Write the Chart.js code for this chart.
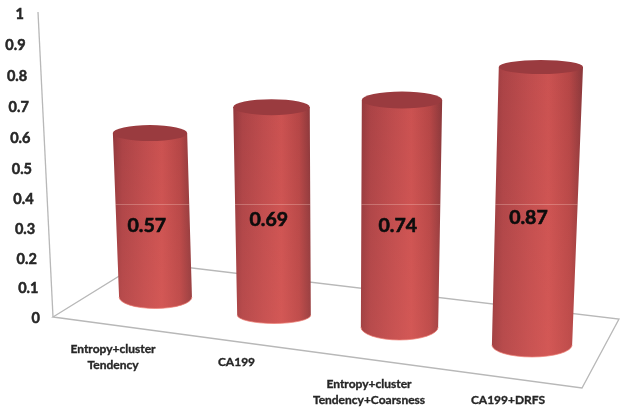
<!DOCTYPE html>
<html>
<head>
<meta charset="utf-8">
<style>
  html, body { margin: 0; padding: 0; background: #fff; }
  canvas { display: block; filter: blur(0.5px); }
</style>
<script src="https://cdn.jsdelivr.net/npm/chart.js@4/dist/chart.umd.min.js"></script>
</head>
<body>
<canvas id="chart" width="630" height="412"></canvas>
<script>
const categories = [
  ['Entropy+cluster', 'Tendency'],
  ['CA199'],
  ['Entropy+cluster', 'Tendency+Coarsness'],
  ['CA199+DRFS']
];
const values = [0.57, 0.69, 0.74, 0.87];
const tickValues = [0, 0.1, 0.2, 0.3, 0.4, 0.5, 0.6, 0.7, 0.8, 0.9, 1];
const tickLabels = ['0', '0.1', '0.2', '0.3', '0.4', '0.5', '0.6', '0.7', '0.8', '0.9', '1'];

// fake 3d: where each bar stands on the floor and how much it grows with depth
const feetShiftX = [31.75, 8.75, -7.25, -16.25];
const feetY = [297, 315, 327, 345];
const depthScale = [0.946, 0.991, 1.009, 1.051];
const lean = [-0.0335, -0.012, 0.011, 0.032];
const widthScale = [0.99, 1.0, 1.05, 1.09];
const topTaper = [1.02, 1.04, 1.04, 1.05];
const footRy = [11.5, 8.5, 13, 12];
const capRy = [8, 8, 8.5, 7];
const valueLabelShift = [[-6, 11], [-4, 9], [-3, 12], [-8, 12]];

// x axis labels sit on the slanted floor, first line centre of each
const xLabelAnchors = [[113, 349], [236.5, 362], [369, 384], [508, 400]];

const floor = [[53, 317], [142, 262], [619, 319], [582, 388]];
const wall = [[38, 12], [53, 317]];
const seamY = 204.5;

class SlantLinearScale extends Chart.LinearScale {
  _computeLabelItems(area) {
    const items = super._computeLabelItems(area);
    items.forEach((item, i) => {
      const v = this.ticks[i].value;
      const y = this.getPixelForValue(v) + 12 * v * (1 - v);
      item.options.translation = [40 - 16 * v, y];
      item.options.textAlign = 'right';
      item.options.textBaseline = 'middle';
      item.textOffset = 0;
    });
    return items;
  }
}
SlantLinearScale.id = 'slantLinear';
SlantLinearScale.defaults = Chart.LinearScale.defaults;

class FloorCategoryScale extends Chart.CategoryScale {
  _computeLabelItems(area) {
    const items = super._computeLabelItems(area);
    items.forEach((item, i) => {
      item.options.translation = xLabelAnchors[i];
      item.options.textAlign = 'center';
      item.options.textBaseline = 'middle';
      item.textOffset = 0;
    });
    return items;
  }
}
FloorCategoryScale.id = 'floorCategory';
FloorCategoryScale.defaults = Chart.CategoryScale.defaults;

Chart.register(SlantLinearScale, FloorCategoryScale);

function line(ctx, pts, close) {
  ctx.beginPath();
  pts.forEach((p, i) => i ? ctx.lineTo(p[0], p[1]) : ctx.moveTo(p[0], p[1]));
  if (close) ctx.closePath();
  ctx.stroke();
}

function drawCylinder(ctx, bar, i) {
  const h = (bar.base - bar.y) * depthScale[i];
  const bx = bar.x + feetShiftX[i];
  const by = feetY[i];
  const tx = bx + lean[i] * h;
  const ty = by - h;
  const rb = bar.width / 2 * widthScale[i];
  const rt = rb * topTaper[i];

  const side = new Path2D();
  side.moveTo(tx - rt, ty);
  side.lineTo(bx - rb, by);
  side.ellipse(bx, by, rb, footRy[i], 0, Math.PI, 0, true);
  side.lineTo(tx + rt, ty);
  side.closePath();

  const left = Math.min(tx - rt, bx - rb);
  const right = Math.max(tx + rt, bx + rb);
  const g = ctx.createLinearGradient(left, 0, right, 0);
  g.addColorStop(0, '#93393d');
  g.addColorStop(0.12, '#ab4346');
  g.addColorStop(0.4, '#be4c4d');
  g.addColorStop(0.62, '#cb5251');
  g.addColorStop(0.85, '#b54646');
  g.addColorStop(1, '#8a383b');
  ctx.fillStyle = g;
  ctx.fill(side);

  // the lower part of each cylinder is a bit brighter
  const v = ctx.createLinearGradient(0, ty, 0, by + footRy[i]);
  v.addColorStop(0, 'rgba(255,120,110,0)');
  v.addColorStop(1, 'rgba(255,120,110,0.16)');
  ctx.fillStyle = v;
  ctx.fill(side);

  ctx.save();
  ctx.clip(side);
  ctx.strokeStyle = 'rgba(255,225,215,0.28)';
  ctx.lineWidth = 1;
  line(ctx, [[left, seamY], [right, seamY]]);
  ctx.restore();

  ctx.strokeStyle = 'rgba(240,130,120,0.7)';
  ctx.lineWidth = 1;
  ctx.beginPath();
  ctx.ellipse(bx, by, rb, footRy[i], 0, Math.PI, 0, true);
  ctx.stroke();

  ctx.fillStyle = '#9a3b3f';
  ctx.beginPath();
  ctx.ellipse(tx, ty, rt, capRy[i], 0, 0, Math.PI * 2);
  ctx.fill();

  ctx.fillStyle = '#0d0d0d';
  ctx.strokeStyle = '#0d0d0d';
  ctx.lineWidth = 0.6;
  ctx.font = 'bold 19.5px Lato';
  ctx.textAlign = 'center';
  ctx.textBaseline = 'middle';
  const mx = (tx + bx) / 2 + valueLabelShift[i][0];
  const my = (ty + by) / 2 + valueLabelShift[i][1];
  ctx.fillText(String(values[i]), mx, my);
  ctx.strokeText(String(values[i]), mx, my);
}

const cylinders = {
  id: 'cylinders',
  beforeDatasetsDraw(chart) {
    const ctx = chart.ctx;
    ctx.save();
    ctx.strokeStyle = '#b8b8b8';
    ctx.lineWidth = 1.3;
    line(ctx, floor, true);
    line(ctx, wall);
    ctx.restore();
  },
  afterDatasetsDraw(chart) {
    const ctx = chart.ctx;
    ctx.save();
    chart.getDatasetMeta(0).data.forEach((bar, i) => drawCylinder(ctx, bar, i));
    ctx.restore();
  }
};

new Chart(document.getElementById('chart'), {
  type: 'bar',
  data: {
    labels: categories,
    datasets: [{
      data: values,
      backgroundColor: 'transparent',
      barPercentage: 0.52,
      categoryPercentage: 1
    }]
  },
  options: {
    responsive: false,
    animation: false,
    layout: { padding: { top: 14, right: 11, left: 0, bottom: 0 } },
    plugins: { legend: { display: false }, tooltip: { enabled: false } },
    scales: {
      x: {
        type: 'floorCategory',
        grid: { display: false },
        border: { display: false },
        afterFit(s) { s.height = 94; },
        ticks: {
          maxRotation: 0,
          autoSkip: false,
          color: '#262626',
          textStrokeColor: '#262626',
          textStrokeWidth: 0.35,
          font: { family: 'Lato', size: 12, weight: 'bold', lineHeight: 1.35 }
        }
      },
      y: {
        type: 'slantLinear',
        min: 0,
        max: 1,
        grid: { display: false },
        border: { display: false },
        afterFit(s) { s.width = 53; },
        afterBuildTicks(s) { s.ticks = tickValues.map(value => ({ value })); },
        ticks: {
          autoSkip: false,
          callback: (value, i) => tickLabels[i],
          color: '#262626',
          textStrokeColor: '#262626',
          textStrokeWidth: 0.5,
          font: { family: 'Lato', size: 14.5, weight: 'bold' }
        }
      }
    }
  },
  plugins: [cylinders]
});
</script>
</body>
</html>
